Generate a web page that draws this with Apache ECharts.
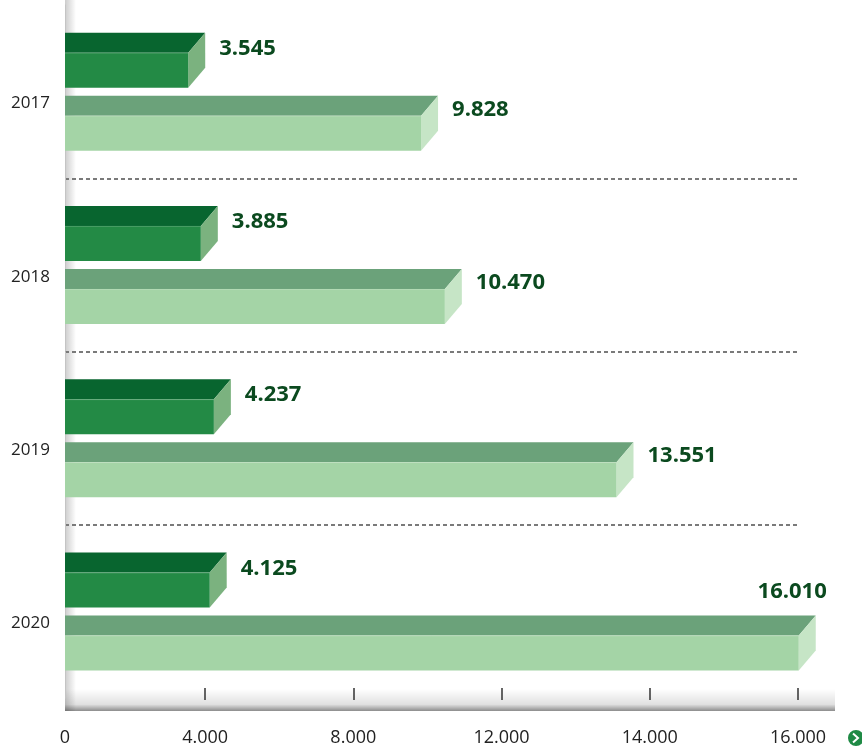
<!DOCTYPE html>
<html>
<head>
<meta charset="utf-8">
<script src="https://cdn.jsdelivr.net/npm/echarts@6/dist/echarts.min.js"></script>
<style>
html,body{margin:0;padding:0;background:#fff;}
#chart{width:862px;height:751px;}
</style>
</head>
<body>
<div id="chart"></div>
<script>
// ---- data ----
const years = ['2017', '2018', '2019', '2020'];
const seriesDark = [3545, 3885, 4237, 4125];
const seriesLight = [9828, 10470, 13551, 16010];
const tickValues = [0, 4000, 8000, 12000, 14000, 16000];
const tickLabels = ['0', '4.000', '8.000', '12.000', '14.000', '16.000'];

// The reference axis is piecewise: ticks are equally spaced although the
// last two steps are 2.000 instead of 4.000. Map values into tick-index space.
function toAxis(v) {
  const t = tickValues;
  for (let i = 0; i < t.length - 1; i++) {
    if (v <= t[i + 1]) return i + (v - t[i]) / (t[i + 1] - t[i]);
  }
  const n = t.length - 1;
  return n + (v - t[n]) / (t[n] - t[n - 1]);
}
function fmt(v) {
  return String(v).replace(/\B(?=(\d{3})+(?!\d))/g, '.');
}

const FONT = '"Open Sans", "DejaVu Sans", sans-serif';
const palette = [
  { top: '#08652f', front: '#238a45', side: '#7bb27f' },
  { top: '#6ba27a', front: '#a4d4a6', side: '#c6e5c6' }
];

function makeRender(idx) {
  return function (params, api) {
    const cat = api.value(1);
    const pt = api.coord([api.value(0), cat]);
    const x0 = params.coordSys.x;
    const x1 = pt[0];
    const c = pt[1];
    const dx = 17, dy = 20, fh = 35;
    const frontBot = idx === 0 ? c - 4 : c + 59;
    const frontTop = frontBot - fh;
    const col = palette[idx];
    const label = fmt(api.value(2));
    const estW = label.length * 12.5;
    let tx = x1 + 31, ty = idx === 0 ? c - 43 : c + 18, align = 'left';
    if (tx + estW > api.getWidth()) {
      tx = x1 + dx + 11;
      ty = frontTop - dy - 24;
      align = 'right';
    }
    return {
      type: 'group',
      children: [
        { type: 'polygon', shape: { points: [[x0, frontTop], [x1, frontTop], [x1 + dx, frontTop - dy], [x0, frontTop - dy]] }, style: { fill: col.top } },
        { type: 'polygon', shape: { points: [[x1, frontTop], [x1 + dx, frontTop - dy], [x1 + dx, frontBot - dy], [x1, frontBot]] }, style: { fill: col.side } },
        { type: 'rect', shape: { x: x0, y: frontTop, width: x1 - x0, height: fh }, style: { fill: col.front } },
        { type: 'line', shape: { x1: x0, y1: frontTop + 0.5, x2: x1, y2: frontTop + 0.5 }, style: { stroke: 'rgba(255,255,255,0.18)', lineWidth: 1 } },
        { type: 'text', style: { text: label, x: tx, y: ty, align: align, verticalAlign: 'middle', fill: '#0b4a1f', font: 'bold 22px ' + FONT } }
      ]
    };
  };
}

const chart = echarts.init(document.getElementById('chart'), null, { renderer: 'canvas' });
chart.setOption({
  backgroundColor: '#fff',
  animation: false,
  grid: { left: 65, right: 64, top: 5, bottom: 53 },
  xAxis: {
    type: 'value',
    min: 0.055,
    max: 5,
    offset: 2,
    axisLine: { show: false },
    splitLine: { show: false },
    axisTick: { show: true, inside: true, length: 12, customValues: [1, 2, 3, 4, 5], lineStyle: { color: '#333', width: 1.5 } },
    axisLabel: {
      customValues: [0.055, 1, 2, 3, 4, 5],
      formatter: function (v) { return v < 0.5 ? tickLabels[0] : tickLabels[Math.round(v)]; },
      margin: 29,
      color: '#222',
      fontFamily: FONT,
      fontSize: 18
    }
  },
  yAxis: {
    type: 'category',
    data: years,
    inverse: true,
    axisLine: { show: true, onZero: false, lineStyle: { color: '#c4c4c4', width: 1 } },
    axisTick: { show: false },
    axisLabel: { margin: 15, verticalAlign: 'top', lineHeight: 24, color: '#222', fontFamily: FONT, fontSize: 17 },
    splitLine: { show: true, showMinLine: false, showMaxLine: false, lineStyle: { color: '#7a7a7a', width: 2, type: [4, 3] } }
  },
  graphic: [
    { type: 'rect', z: -10, shape: { x: 65, y: 0, width: 11, height: 711 },
      style: { fill: new echarts.graphic.LinearGradient(0, 0, 1, 0, [{ offset: 0, color: 'rgba(0,0,0,0.20)' }, { offset: 1, color: 'rgba(0,0,0,0)' }]) } },
    { type: 'rect', z: -10, shape: { x: 65, y: 689, width: 770, height: 22 },
      style: { fill: new echarts.graphic.LinearGradient(0, 0, 0, 1, [{ offset: 0, color: 'rgba(0,0,0,0)' }, { offset: 0.7, color: 'rgba(0,0,0,0.12)' }, { offset: 1, color: 'rgba(0,0,0,0.45)' }]) } },
    { type: 'circle', shape: { cx: 856, cy: 738, r: 8 }, style: { fill: '#1f8a45' } },
    { type: 'polyline', shape: { points: [[853, 733.5], [858, 738], [853, 742.5]] }, style: { stroke: '#fff', lineWidth: 2, fill: null } }
  ],
  series: [
    { type: 'custom', name: 'dark', clip: false, z: 5, renderItem: makeRender(0),
      encode: { x: 0, y: 1 }, data: seriesDark.map((v, i) => [toAxis(v), i, v]) },
    { type: 'custom', name: 'light', clip: false, z: 5, renderItem: makeRender(1),
      encode: { x: 0, y: 1 }, data: seriesLight.map((v, i) => [toAxis(v), i, v]) }
  ]
});
</script>
</body>
</html>
